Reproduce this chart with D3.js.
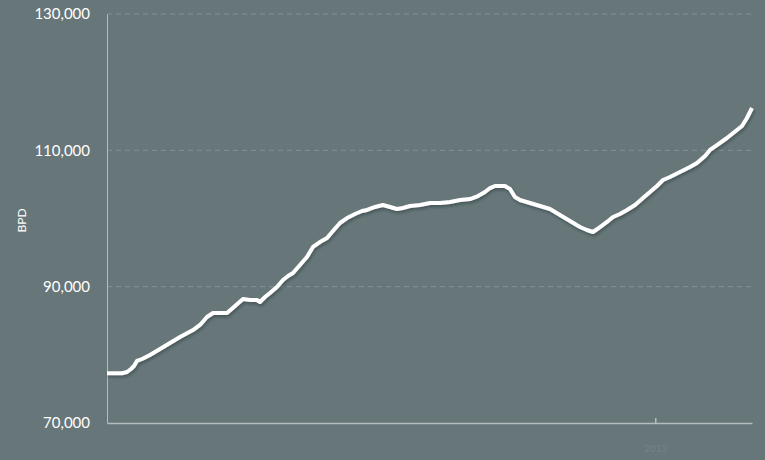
<!DOCTYPE html>
<html>
<head>
<meta charset="utf-8">
<script src="https://cdn.jsdelivr.net/npm/d3@7"></script>
<style>
  html, body { margin: 0; padding: 0; background: #677679; }
  svg { display: block; }
  text { font-family: Lato, "Open Sans", sans-serif; }
</style>
</head>
<body>
<svg width="765" height="460"></svg>
<script>
// years (decimal) and barrels per day
const years = [1962.00, 1962.74, 1963.40, 1963.86, 1964.23, 1964.51, 1964.79, 1965.26, 1966.00, 1966.93,
  1967.86, 1968.79, 1970.00, 1970.65, 1971.30, 1971.86, 1972.51, 1973.16, 1973.91, 1974.65,
  1975.30, 1975.95, 1976.23, 1976.70, 1977.16, 1977.81, 1978.37, 1978.84, 1979.30, 1979.95,
  1980.60, 1981.16, 1981.81, 1982.47, 1983.02, 1983.67, 1984.33, 1985.07, 1985.72, 1986.19,
  1986.93, 1987.67, 1988.33, 1988.98, 1989.53, 1990.19, 1991.12, 1992.05, 1992.98, 1993.91,
  1994.84, 1995.77, 1996.51, 1997.16, 1997.63, 1998.09, 1999.02, 1999.49, 1999.95, 2000.42,
  2001.35, 2002.28, 2003.21, 2004.14, 2005.07, 2006.00, 2006.65, 2007.21, 2007.86, 2008.51,
  2009.07, 2009.72, 2010.37, 2011.12, 2011.86, 2012.51, 2013.16, 2013.72, 2014.37, 2015.30,
  2016.23, 2016.88, 2017.63, 2018.09, 2018.74, 2019.67, 2020.60, 2021.07, 2021.53, 2022.00];

const bpd = [77300, 77300, 77300, 77480, 77920, 78360, 79100, 79390, 79980, 80860,
  81740, 82620, 83640, 84380, 85550, 86140, 86140, 86140, 87160, 88190,
  88040, 88040, 87750, 88480, 89070, 89950, 90980, 91560, 92000, 93180,
  94350, 95820, 96550, 97140, 98170, 99340, 100070, 100660, 101100, 101250,
  101690, 101980, 101690, 101390, 101540, 101830, 101980, 102270, 102270, 102420,
  102710, 102860, 103300, 103890, 104470, 104770, 104770, 104330, 103150, 102710,
  102270, 101830, 101390, 100510, 99630, 98750, 98310, 98020, 98750, 99490,
  100220, 100660, 101250, 101980, 103010, 103890, 104770, 105650, 106090, 106820,
  107560, 108140, 109170, 110050, 110780, 111810, 112980, 113570, 114740, 116210];

const yTicks = [70000, 90000, 110000, 130000];
const xTicks = [2013];

const svg = d3.select('svg');
const margin = { top: 14, right: 13, bottom: 37, left: 107 };
const width = +svg.attr('width');
const height = +svg.attr('height');
const innerWidth = width - margin.left - margin.right;
const innerHeight = height - margin.top - margin.bottom;

const data = years.map((y, i) => ({ year: y, value: bpd[i] }));

const xScale = d3.scaleLinear().domain([1962, 2022]).range([0, innerWidth]);
const yScale = d3.scaleLinear().domain([70000, 130000]).range([innerHeight, 0]);

const defs = svg.append('defs');
const shadow = defs.append('filter').attr('id', 'shadow')
  .attr('x', '-5%').attr('y', '-5%').attr('width', '110%').attr('height', '120%');
shadow.append('feDropShadow')
  .attr('dx', 1).attr('dy', 2).attr('stdDeviation', 1.5)
  .attr('flood-color', '#1e2a2c').attr('flood-opacity', 0.45);

const g = svg.append('g').attr('transform', `translate(${margin.left},${margin.top})`);

// gridlines
g.append('g').selectAll('line')
  .data(yTicks.filter(t => t > 70000))
  .enter().append('line')
  .attr('x1', 0).attr('x2', innerWidth)
  .attr('y1', d => yScale(d)).attr('y2', d => yScale(d))
  .attr('stroke', '#8a989b')
  .attr('stroke-width', 0.8)
  .attr('stroke-dasharray', '5,4');

// y axis
const yAxis = d3.axisLeft(yScale)
  .tickValues(yTicks)
  .tickFormat(d3.format(','))
  .tickSize(0)
  .tickPadding(17);

const yAxisG = g.append('g').attr('id', 'y-axis').call(yAxis);
yAxisG.select('.domain').attr('stroke', '#b4bdbf');
yAxisG.selectAll('text')
  .attr('fill', '#ffffff')
  .style('font-size', '15px');

// x axis
const xAxis = d3.axisBottom(xScale)
  .tickValues(xTicks)
  .tickFormat(d3.format('d'))
  .tickSizeInner(-5)
  .tickSizeOuter(0)
  .tickPadding(22);

const xAxisG = g.append('g').attr('id', 'x-axis')
  .attr('transform', `translate(0,${innerHeight})`)
  .call(xAxis);
xAxisG.select('.domain').attr('stroke', '#b4bdbf').attr('stroke-width', 1.5);
xAxisG.selectAll('.tick line').attr('stroke', '#b4bdbf').attr('stroke-width', 1.5);
xAxisG.selectAll('text')
  .attr('fill', '#748487')
  .style('font-size', '10px');

// y label
svg.append('text')
  .attr('transform', `translate(26,${margin.top + innerHeight / 2 + 2}) rotate(-90)`)
  .attr('text-anchor', 'middle')
  .attr('fill', '#ffffff')
  .style('font-size', '12px')
  .text('BPD');

// line
const line = d3.line()
  .x(d => xScale(d.year))
  .y(d => yScale(d.value));

g.append('path')
  .datum(data)
  .attr('d', line)
  .attr('fill', 'none')
  .attr('stroke', '#ffffff')
  .attr('stroke-width', 4)
  .attr('stroke-linejoin', 'round')
  .attr('filter', 'url(#shadow)');
</script>
</body>
</html>
